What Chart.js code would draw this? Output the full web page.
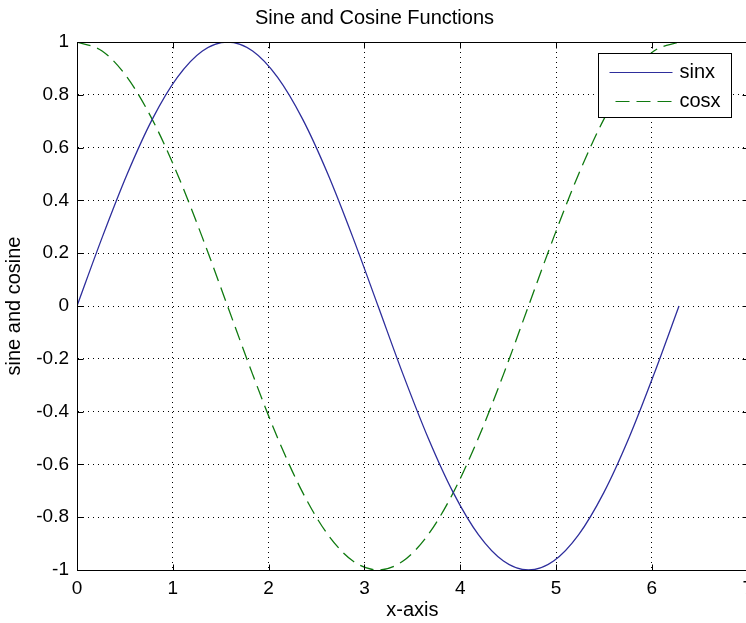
<!DOCTYPE html>
<html><head><meta charset="utf-8">
<script src="https://cdn.jsdelivr.net/npm/chart.js@4/dist/chart.umd.min.js"></script>
<style>html,body{margin:0;padding:0;overflow:hidden;background:#fff;width:746px;height:623px}canvas{display:block}</style>
</head><body><canvas id="c" width="760" height="623"></canvas>
<script>
const xValues = [0, 0.262, 0.524, 0.785, 1.047, 1.309, 1.571, 1.833, 2.094, 2.356, 2.618, 2.880, 3.142, 3.403, 3.665, 3.927, 4.189, 4.451, 4.712, 4.974, 5.236, 5.498, 5.760, 6.021, 6.283];
const sinValues = [0, 0.259, 0.5, 0.707, 0.866, 0.966, 1, 0.966, 0.866, 0.707, 0.5, 0.259, 0, -0.259, -0.5, -0.707, -0.866, -0.966, -1, -0.966, -0.866, -0.707, -0.5, -0.259, 0];
const cosValues = [1, 0.966, 0.866, 0.707, 0.5, 0.259, 0, -0.259, -0.5, -0.707, -0.866, -0.966, -1, -0.966, -0.866, -0.707, -0.5, -0.259, 0, 0.259, 0.5, 0.707, 0.866, 0.966, 1];
const xTickValues = [0, 1, 2, 3, 4, 5, 6, 7];
const xTickLabels = ['0', '1', '2', '3', '4', '5', '6', '7'];
const yTickValues = [-1, -0.8, -0.6, -0.4, -0.2, 0, 0.2, 0.4, 0.6, 0.8, 1];
const yTickLabels = ['-1', '-0.8', '-0.6', '-0.4', '-0.2', '0', '0.2', '0.4', '0.6', '0.8', '1'];
const seriesNames = ['sinx', 'cosx'];
const titleText = 'Sine and Cosine Functions';
const xAxisTitle = 'x-axis';
const yAxisTitle = 'sine and cosine';

const FONT = "'Liberation Sans', Arial, sans-serif";
const SIN_COLOR = '#2e2e9c';
const COS_COLOR = '#107a10';
const COS_DASH = [14, 7];

function labelFor(values, labels, v) {
  for (let i = 0; i < values.length; i++) if (Math.abs(values[i] - v) < 1e-9) return labels[i];
  return '';
}

const boxPlugin = {
  id: 'boxTicks',
  afterDraw(chart) {
    const {ctx, chartArea: a, scales} = chart;
    ctx.save();
    ctx.strokeStyle = '#000';
    ctx.lineWidth = 1;
    const L = Math.round(a.left) + 0.5, R = Math.round(a.right) + 0.5;
    const T = Math.round(a.top) + 0.5, B = Math.round(a.bottom) + 0.5;
    ctx.strokeRect(L, T, R - L, B - T);
    const tl = 6;
    ctx.beginPath();
    xTickValues.forEach(v => {
      const x = Math.round(scales.x.getPixelForValue(v)) + 0.5;
      ctx.moveTo(x, B); ctx.lineTo(x, B - tl);
      ctx.moveTo(x, T); ctx.lineTo(x, T + tl);
    });
    yTickValues.forEach(v => {
      const y = Math.round(scales.y.getPixelForValue(v)) + 0.5;
      ctx.moveTo(L, y); ctx.lineTo(L + tl, y);
      ctx.moveTo(R, y); ctx.lineTo(R - tl, y);
    });
    ctx.stroke();
    ctx.restore();
  }
};

const legendPlugin = {
  id: 'boxLegend',
  afterDraw(chart) {
    const {ctx, chartArea: a} = chart;
    const w = 133, h = 64;
    const x0 = Math.round(a.right) - 17 - w + 0.5;
    const y0 = Math.round(a.top) + 11 + 0.5;
    ctx.save();
    ctx.fillStyle = '#fff';
    ctx.fillRect(x0, y0, w, h);
    ctx.strokeStyle = '#000';
    ctx.lineWidth = 1;
    ctx.strokeRect(x0, y0, w, h);
    ctx.font = '20px ' + FONT;
    ctx.textBaseline = 'middle';
    ctx.fillStyle = '#000';
    chart.data.datasets.forEach((ds, i) => {
      const yy = y0 + 19 + i * 29;
      ctx.beginPath();
      ctx.strokeStyle = ds.borderColor;
      ctx.lineWidth = 1.2;
      ctx.setLineDash(ds.borderDash || []);
      if (ds.borderDash) { ctx.moveTo(x0 + 17, yy); } else { ctx.moveTo(x0 + 11, yy); }
      ctx.lineTo(x0 + 74, yy);
      ctx.stroke();
      ctx.setLineDash([]);
      ctx.fillText(ds.label, x0 + 81, yy);
    });
    ctx.restore();
  }
};

new Chart(document.getElementById('c'), {
  type: 'line',
  data: {
    datasets: [
      {
        label: seriesNames[0],
        data: xValues.map((x, i) => ({x: x, y: sinValues[i]})),
        borderColor: SIN_COLOR, borderWidth: 1.3, pointRadius: 0,
        cubicInterpolationMode: 'monotone', fill: false
      },
      {
        label: seriesNames[1],
        data: xValues.map((x, i) => ({x: x, y: cosValues[i]})),
        borderColor: COS_COLOR, borderWidth: 1.3, borderDash: COS_DASH, pointRadius: 0,
        cubicInterpolationMode: 'monotone', fill: false
      }
    ]
  },
  options: {
    responsive: false,
    animation: false,
    devicePixelRatio: 1,
    layout: {padding: {left: 0, right: 11, top: 0, bottom: 0}},
    plugins: {
      legend: {display: false},
      tooltip: {enabled: false},
      title: {
        display: true, text: titleText, color: '#000',
        font: {family: FONT, size: 20, weight: 'normal', lineHeight: 1.2},
        padding: {top: 6, bottom: 12}
      }
    },
    scales: {
      x: {
        type: 'linear', min: 0, max: 7,
        afterBuildTicks: s => { s.ticks = xTickValues.map(v => ({value: v})); },
        afterFit: s => { s.height = 53; },
        ticks: {
          callback: v => labelFor(xTickValues, xTickLabels, v),
          autoSkip: false, maxRotation: 0, padding: 7, color: '#000',
          font: {family: FONT, size: 19}
        },
        grid: {color: '#000', lineWidth: 1, drawTicks: false},
        border: {display: true, color: '#000', width: 1, dash: [1, 4]},
        title: {display: true, text: xAxisTitle, color: '#000', font: {family: FONT, size: 20}, padding: {top: 0, bottom: 1}}
      },
      y: {
        type: 'linear', min: -1, max: 1,
        afterBuildTicks: s => { s.ticks = yTickValues.map(v => ({value: v})); },
        afterFit: s => { s.width = 77; },
        ticks: {
          callback: v => labelFor(yTickValues, yTickLabels, v),
          autoSkip: false, padding: 8, color: '#000',
          font: {family: FONT, size: 19}
        },
        grid: {color: '#000', lineWidth: 1, drawTicks: false},
        border: {display: true, color: '#000', width: 1, dash: [1, 4]},
        title: {display: true, text: yAxisTitle, color: '#000', font: {family: FONT, size: 20}, padding: {top: 2, bottom: 0}}
      }
    }
  },
  plugins: [boxPlugin, legendPlugin]
});
</script>
</body></html>
